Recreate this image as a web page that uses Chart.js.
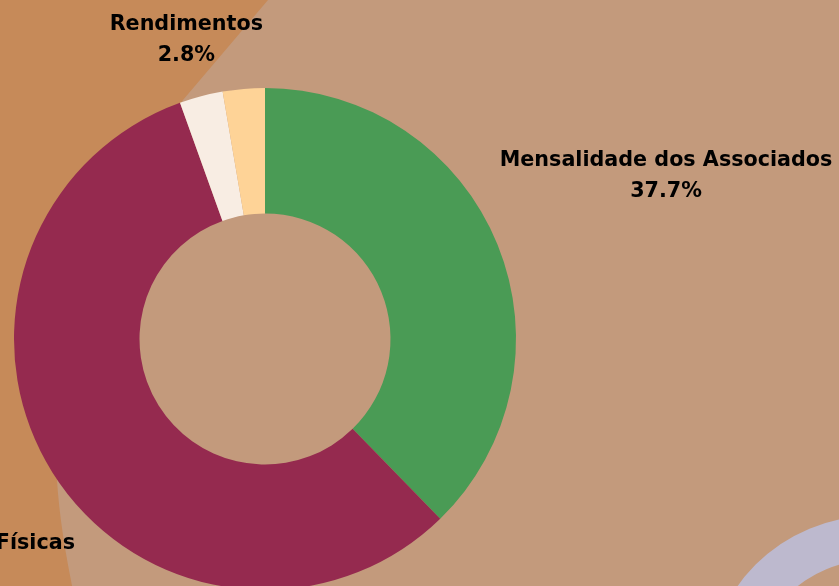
<!DOCTYPE html>
<html>
<head>
<meta charset="utf-8">
<script src="https://cdn.jsdelivr.net/npm/chart.js@4"></script>
<style>
  html, body { margin: 0; padding: 0; overflow: hidden; background: #c39a7c; }
  #wrap { width: 839px; height: 586px; overflow: hidden; }
</style>
</head>
<body>
<div id="wrap"><canvas id="receitasChart" width="839" height="600"></canvas></div>
<script>
// Dados do gráfico
const categorias = ['Mensalidade dos Associados', 'Doações de Pessoas Físicas', 'Rendimentos', 'Outras Receitas'];
const percentuais = [37.7, 56.8, 2.8, 2.7];
const cores = ['#4a9b55', '#952a4f', '#f8ede3', '#fed397'];

// Distância dos rótulos (em múltiplos do raio externo)
const distRotulo = [1.725, 1.65, 1.23, 1.65];

// Fundo decorativo
const fundoPlugin = {
    id: 'fundo',
    beforeDraw(chart) {
        const ctx = chart.ctx;
        ctx.save();
        ctx.fillStyle = '#c39a7c';
        ctx.fillRect(0, 0, chart.width, chart.height);

        // mancha laranja à esquerda
        ctx.fillStyle = '#c68a59';
        ctx.beginPath();
        ctx.moveTo(0, 0);
        ctx.lineTo(268, 0);
        ctx.lineTo(183, 100);
        ctx.quadraticCurveTo(60, 300, 57, 480);
        ctx.quadraticCurveTo(60, 530, 75, 600);
        ctx.lineTo(0, 600);
        ctx.closePath();
        ctx.fill();

        // anel lilás no canto inferior direito
        ctx.fillStyle = '#bdb9ce';
        ctx.beginPath();
        ctx.arc(873, 682, 166, 0, Math.PI * 2);
        ctx.arc(873, 682, 122, 0, Math.PI * 2, true);
        ctx.fill('evenodd');
        ctx.restore();
    }
};

// Rótulos externos
const rotulosPlugin = {
    id: 'rotulos',
    afterDraw(chart) {
        const ctx = chart.ctx;
        const meta = chart.getDatasetMeta(0);
        ctx.save();
        ctx.font = 'bold 20.7px "DejaVu Sans", sans-serif';
        ctx.fillStyle = '#000';
        ctx.textAlign = 'center';
        ctx.textBaseline = 'middle';
        meta.data.forEach((arc, i) => {
            const mid = (arc.startAngle + arc.endAngle) / 2;
            const r = arc.outerRadius * distRotulo[i];
            const x = arc.x + Math.cos(mid) * r;
            const y = arc.y + Math.sin(mid) * r;
            ctx.fillText(categorias[i], x, y - 15.5);
            ctx.fillText(percentuais[i].toFixed(1) + '%', x, y + 15.5);
        });
        ctx.restore();
    }
};

const ctxReceitas = document.getElementById('receitasChart').getContext('2d');
new Chart(ctxReceitas, {
    type: 'doughnut',
    data: {
        labels: categorias,
        datasets: [{
            data: percentuais,
            backgroundColor: cores,
            borderWidth: 0
        }]
    },
    options: {
        responsive: false,
        animation: false,
        cutout: '50%',
        events: [],
        layout: {
            padding: { left: 14, right: 323, top: 88, bottom: 10 }
        },
        plugins: {
            legend: { display: false },
            tooltip: { enabled: false }
        }
    },
    plugins: [fundoPlugin, rotulosPlugin]
});
</script>
</body>
</html>
